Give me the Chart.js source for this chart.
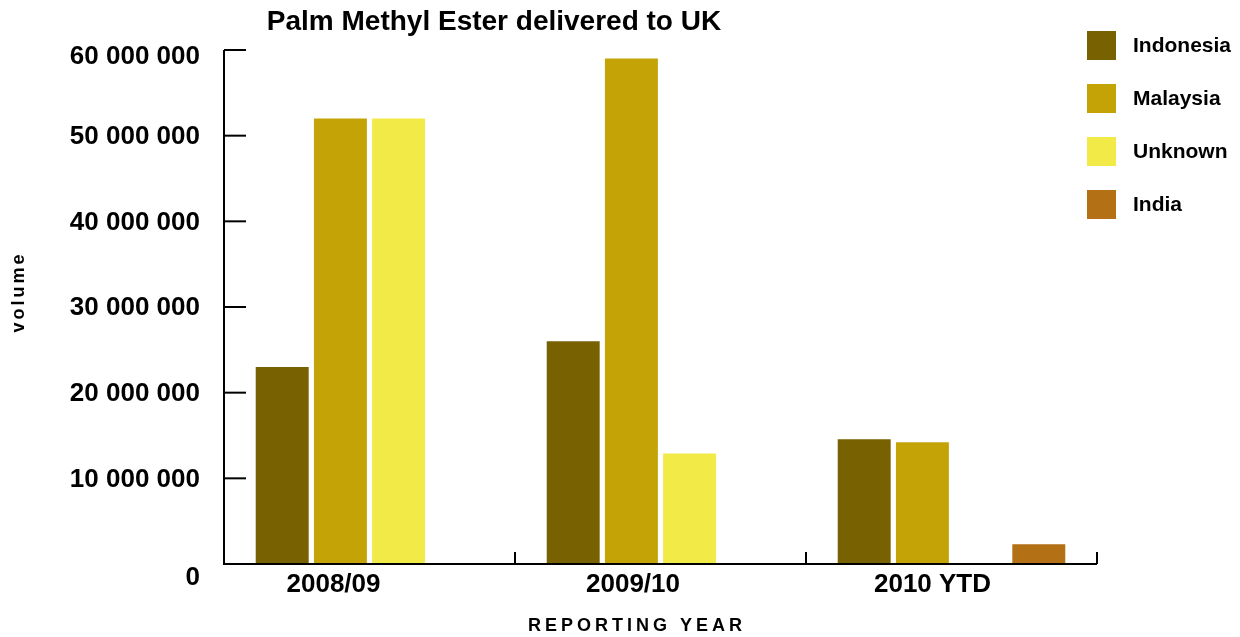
<!DOCTYPE html>
<html>
<head>
<meta charset="utf-8">
<script src="https://cdn.jsdelivr.net/npm/chart.js@4/dist/chart.umd.min.js"></script>
<style>
  html, body { margin: 0; padding: 0; background: #fff; }
  #wrap { width: 1240px; height: 637px; position: relative; }
</style>
</head>
<body>
<div id="wrap"><canvas id="grafico"></canvas></div>
<script>
// datos
const years = ['2008/09', '2009/10', '2010 YTD'];
const indonesia = [23000000, 26000000, 14550000];
const malaysia = [52000000, 59000000, 14200000];
const unknown = [52000000, 12900000, null];
const india = [null, null, 2300000];
const yTicks = [0, 10000000, 20000000, 30000000, 40000000, 50000000, 60000000];

const FONT = 'Arial, "Liberation Sans", sans-serif';

function fmt(v) {
    return String(v).replace(/\B(?=(\d{3})+(?!\d))/g, ' ');
}

// ejes, etiquetas, titulo y leyenda dibujados a mano
const dibujo = {
    id: 'dibujo',
    afterDraw(chart) {
        const ctx = chart.ctx;
        const x = chart.scales.x;
        const y = chart.scales.y;
        const area = chart.chartArea;
        ctx.save();
        ctx.strokeStyle = '#000';
        ctx.lineWidth = 2;

        // eje y
        ctx.beginPath();
        ctx.moveTo(area.left, y.getPixelForValue(yTicks[yTicks.length - 1]));
        ctx.lineTo(area.left, area.bottom);
        ctx.lineTo(area.right, area.bottom);
        ctx.stroke();

        // ticks y hacia dentro + etiquetas
        ctx.font = 'bold 26px ' + FONT;
        ctx.fillStyle = '#000';
        ctx.textAlign = 'right';
        ctx.textBaseline = 'middle';
        yTicks.forEach((v, i) => {
            const py = y.getPixelForValue(v);
            ctx.beginPath();
            ctx.moveTo(area.left, py);
            ctx.lineTo(area.left + 22, py);
            ctx.stroke();
            let dy = 1;
            if (i === 0) dy = 14;
            if (i === yTicks.length - 1) dy = 7;
            ctx.fillText(fmt(v), 200, py + dy);
        });

        // ticks x en los limites de categoria
        const ancho = (area.right - area.left) / years.length;
        for (let i = 1; i <= years.length; i++) {
            const px = area.left + i * ancho;
            ctx.beginPath();
            ctx.moveTo(px, area.bottom);
            ctx.lineTo(px, area.bottom - 12);
            ctx.stroke();
        }

        // las etiquetas del original van algo corridas a la izquierda
        ctx.textAlign = 'center';
        years.forEach((lab, i) => {
            ctx.fillText(lab, x.getPixelForValue(i) - 36 + i * 8.5, 585);
        });

        // titulos
        ctx.font = 'bold 28px ' + FONT;
        ctx.textBaseline = 'alphabetic';
        ctx.fillText('Palm Methyl Ester delivered to UK', 494, 30);

        ctx.font = 'bold 18px ' + FONT;
        ctx.letterSpacing = '4px';
        ctx.textBaseline = 'middle';
        ctx.fillText('REPORTING YEAR', 637, 626);

        ctx.save();
        ctx.translate(19, 292);
        ctx.rotate(-Math.PI / 2);
        ctx.font = 'bold 18px ' + FONT;
        ctx.letterSpacing = '3px';
        ctx.fillText('volume', 0, 0);
        ctx.restore();
        ctx.letterSpacing = '0px';

        // leyenda
        ctx.font = 'bold 21px ' + FONT;
        ctx.textAlign = 'left';
        chart.data.datasets.forEach((ds, i) => {
            const top = 31 + i * 53;
            ctx.fillStyle = ds.backgroundColor;
            ctx.fillRect(1087, top, 29, 29);
            ctx.fillStyle = '#000';
            ctx.fillText(ds.label, 1133, top + 15);
        });
        ctx.restore();
    }
};

const ctxGrafico = document.getElementById('grafico').getContext('2d');
new Chart(ctxGrafico, {
    type: 'bar',
    data: {
        labels: years,
        datasets: [
            { label: 'Indonesia', data: indonesia, backgroundColor: '#786100' },
            { label: 'Malaysia', data: malaysia, backgroundColor: '#c4a306' },
            { label: 'Unknown', data: unknown, backgroundColor: '#f1ea47' },
            { label: 'India', data: india, backgroundColor: '#b47014' }
        ]
    },
    options: {
        responsive: true,
        maintainAspectRatio: false,
        animation: false,
        layout: { padding: { left: 224, right: 143, top: 50, bottom: 73 } },
        datasets: { bar: { categoryPercentage: 0.8, barPercentage: 0.91, borderWidth: 0 } },
        plugins: {
            legend: { display: false },
            title: { display: false },
            tooltip: { enabled: false }
        },
        scales: {
            x: { display: false },
            y: { display: false, min: 0, max: 60000000, ticks: { stepSize: 10000000 } }
        }
    },
    plugins: [dibujo]
});
</script>
</body>
</html>
